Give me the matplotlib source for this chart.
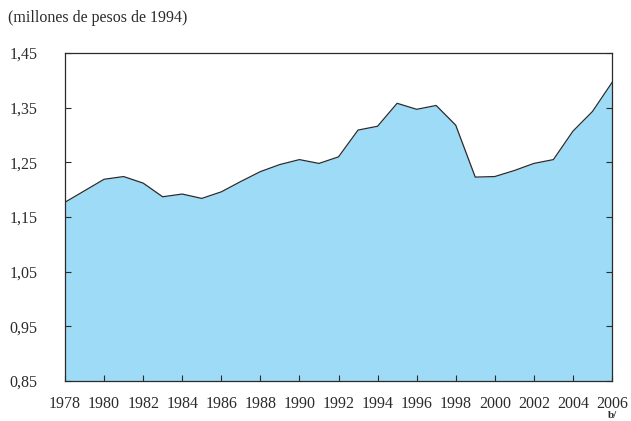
import matplotlib

matplotlib.use("Agg")

import matplotlib.pyplot as plt
import numpy as np

years = list(range(1978, 2007))
values = [
    1.177, 1.198, 1.219, 1.224, 1.212, 1.187, 1.192, 1.184, 1.196, 1.215,
    1.233, 1.246, 1.255, 1.248, 1.260, 1.309, 1.316, 1.358, 1.347, 1.354,
    1.318, 1.223, 1.224, 1.235, 1.248, 1.255, 1.307, 1.343, 1.396,
]
y_ticks = [0.85, 0.95, 1.05, 1.15, 1.25, 1.35, 1.45]
x_ticks = list(range(1978, 2007, 2))

plt.rcParams["font.family"] = ["Liberation Serif", "DejaVu Serif"]

fig = plt.figure(figsize=(6.31, 4.21), dpi=100)
ax = fig.add_axes([65 / 631, 1 - 381 / 421, 547 / 631, 328 / 421])

ax.fill_between(years, values, 0.85, color="#9DDBF7", linewidth=0)
ax.plot(years, values, color="#2b2b2b", linewidth=0.9)

ax.set_xlim(1978, 2006)
ax.set_ylim(0.85, 1.45)
ax.set_xticks(x_ticks)
ax.set_xticklabels([str(y) for y in x_ticks])
ax.set_yticks(y_ticks)
ax.set_yticklabels([f"{v:.2f}".replace(".", ",") for v in y_ticks])
ax.tick_params(axis="both", direction="in", length=4, width=0.8, labelsize=11.5, colors="#2b2b2b")
ax.tick_params(axis="y", right=True, pad=20)
ax.tick_params(axis="x", pad=11)
for s in ax.spines.values():
    s.set_linewidth(0.9)
    s.set_color("#2b2b2b")

fig.text(8 / 631, 1 - 18 / 421, "(millones de pesos de 1994)", fontsize=11.5,
         ha="left", va="center", color="#2b2b2b")
fig.text(613 / 631, 1 / 421, "b/", fontsize=8, fontweight="bold",
         ha="center", va="bottom", color="#2b2b2b")

fig.savefig("out.png", dpi=100)
